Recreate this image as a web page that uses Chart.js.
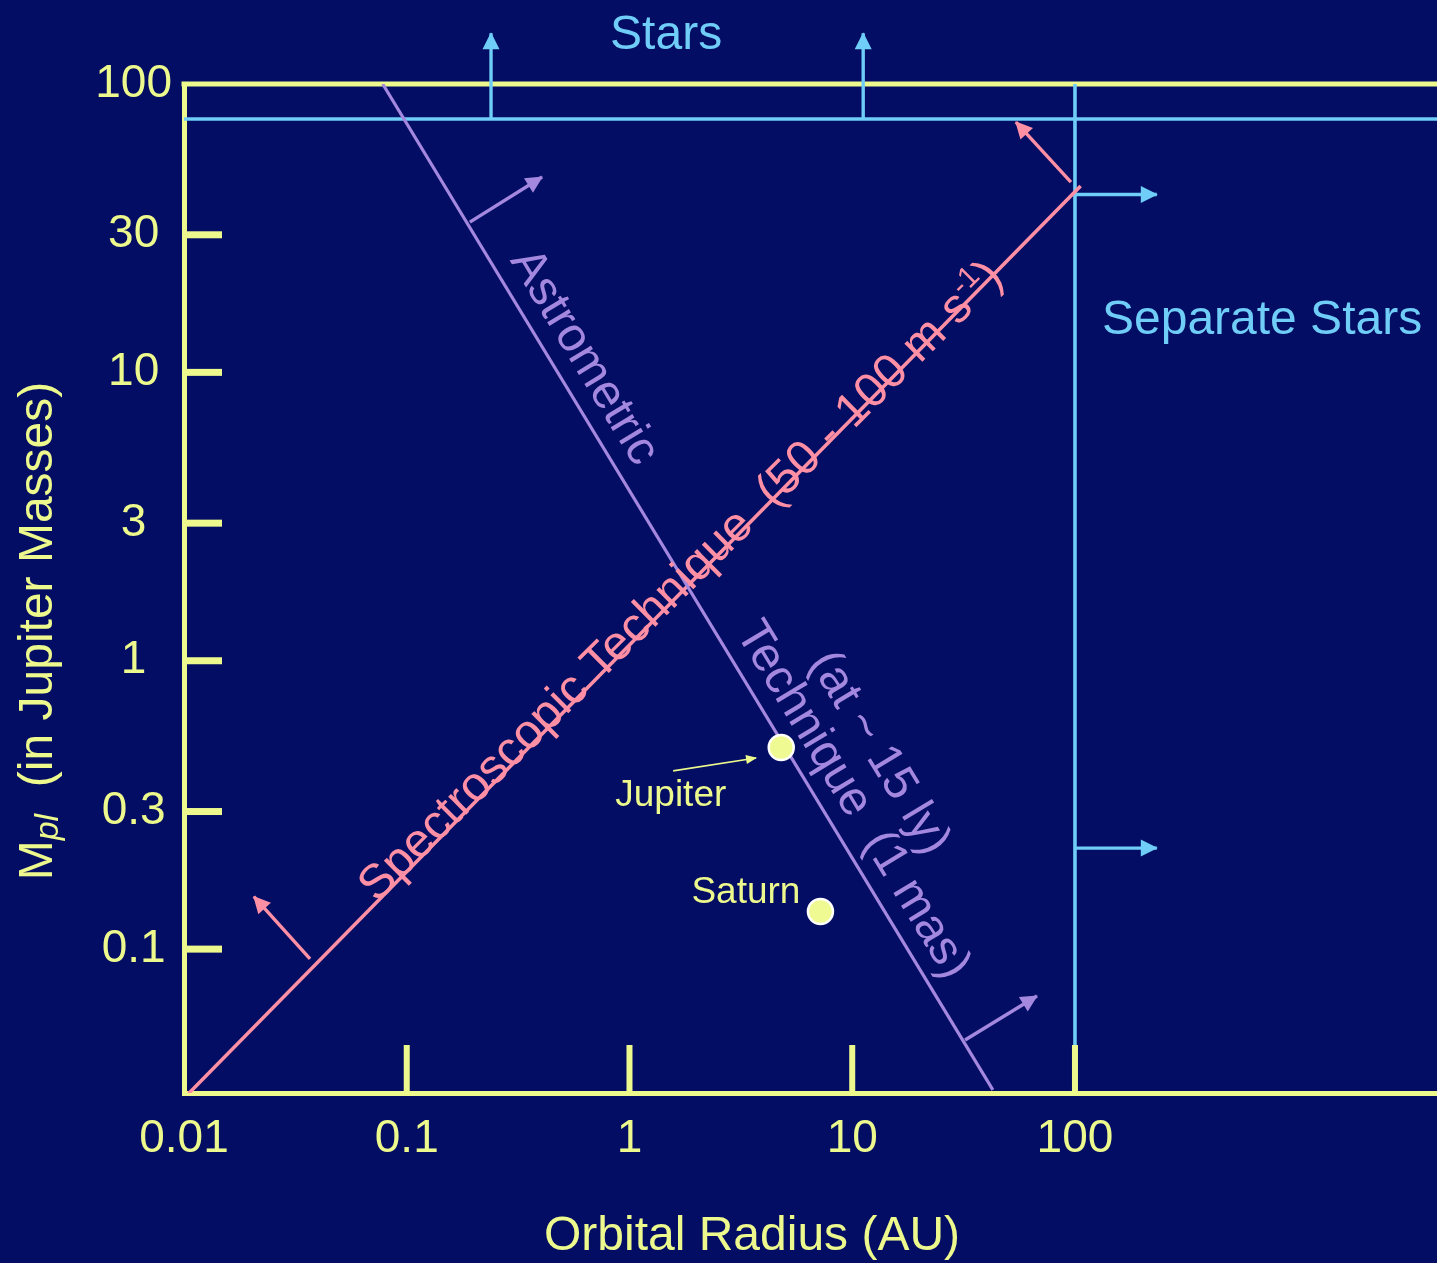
<!DOCTYPE html>
<html>
<head>
<meta charset="utf-8">
<title>Planet detection: spectroscopic vs astrometric</title>
<script src="https://cdn.jsdelivr.net/npm/chart.js@4.4.1/dist/chart.umd.min.js"></script>
<style>
  html, body { margin: 0; padding: 0; background: #020d63; overflow: hidden; }
  #wrap { width: 1437px; height: 1263px; }
  #chart { display: block; }
</style>
</head>
<body>
<div id="wrap"><canvas id="chart" width="1437" height="1263"></canvas></div>
<script>
// x = orbital radius (AU), y = planet mass (Jupiter masses)
const radiusTicks = [0.01, 0.1, 1, 10, 100];
const massTicks = [0.1, 0.3, 1, 3, 10, 30, 100];

const spectroRadius = [0.0105, 106];
const spectroMass = [0.0316, 44.3];
const astroRadius = [0.078, 42.8];
const astroMass = [100, 0.0325];

const starsRadius = [0.01, 4220];
const starsMass = [75.6, 75.6];
const separateRadius = [100, 100];
const separateMass = [100, 0.0317];

const planetNames = ['Jupiter', 'Saturn'];
const planetRadius = [4.8, 7.2];
const planetMass = [0.50, 0.135];

// arrows, from -> to
const arrowGroup      = ['spectro', 'spectro', 'astro', 'astro', 'stars', 'stars', 'stars', 'stars', 'pointer'];
const arrowFromRadius = [0.0368, 95.9, 0.192, 32.1, 0.239, 11.2, 100, 100, 1.57];
const arrowFromMass   = [0.0925, 45.7, 33.2, 0.0484, 75.6, 75.6, 41.4, 0.224, 0.415];
const arrowToRadius   = [0.0206, 54.3, 0.405, 67.5, 0.239, 11.2, 233, 233, 3.70];
const arrowToMass     = [0.152, 73.8, 47.6, 0.0688, 150, 150, 41.4, 0.224, 0.460];

const FONT = "'Liberation Sans', Arial, Helvetica, sans-serif";
const C = {
  bg: '#020d63',
  axis: '#edf98d',
  spectro: '#ff8fa4',
  astro: '#a487de',
  stars: '#6fcdf7',
  pointer: '#edf98d',
  planet: '#f0fa92'
};

Chart.defaults.font.family = FONT;

const pts = (xs, ys) => xs.map((x, i) => ({ x, y: ys[i] }));

function lineSet(key, xs, ys, color, width) {
  return { key, data: pts(xs, ys), showLine: true, borderColor: color, borderWidth: width,
           pointRadius: 0, pointHitRadius: 0, fill: false };
}

const datasets = [
  { key: 'planets', data: pts(planetRadius, planetMass), showLine: false,
    pointRadius: 12.5, pointHoverRadius: 12.5, pointBackgroundColor: C.planet,
    pointBorderColor: '#ffffff', pointBorderWidth: 2.5 },
  lineSet('astro', astroRadius, astroMass, C.astro, 3.2),
  lineSet('spectro', spectroRadius, spectroMass, C.spectro, 3.6),
  lineSet('stars', starsRadius, starsMass, C.stars, 3.6),
  lineSet('separate', separateRadius, separateMass, C.stars, 3.6)
];
arrowGroup.forEach((g, i) => {
  const ds = lineSet('arrow-' + g,
    [arrowFromRadius[i], arrowToRadius[i]], [arrowFromMass[i], arrowToMass[i]],
    C[g], g === 'pointer' ? 1.6 : 3.4);
  ds.clip = false;
  ds.head = g === 'pointer' ? [11, 4.5] : [17, 8.5];
  datasets.push(ds);
});

function font(size, style) { return (style ? style + ' ' : '') + size + 'px ' + FONT; }

function runWidth(ctx, parts) {
  let w = 0;
  parts.forEach(p => { ctx.font = p.font; w += ctx.measureText(p.text).width; });
  return w;
}

function drawRun(ctx, parts, x, y, align) {
  let cx = x;
  const w = runWidth(ctx, parts);
  if (align === 'center') cx -= w / 2;
  else if (align === 'right') cx -= w;
  ctx.textAlign = 'left';
  ctx.textBaseline = 'alphabetic';
  parts.forEach(p => {
    ctx.font = p.font;
    ctx.fillText(p.text, cx, y + (p.dy || 0));
    cx += ctx.measureText(p.text).width;
  });
}

// text laid along a line dataset: t = fraction along it, offset = baseline distance above it
function drawAlong(ctx, meta, t, offset, parts, align, color, tilt) {
  const a = meta.data[0], b = meta.data[meta.data.length - 1];
  const ang = Math.atan2(b.y - a.y, b.x - a.x) + (tilt || 0);
  ctx.save();
  ctx.translate(a.x + (b.x - a.x) * t, a.y + (b.y - a.y) * t);
  ctx.rotate(ang);
  ctx.fillStyle = color;
  drawRun(ctx, parts, 0, -offset, align);
  ctx.restore();
}

function metaByKey(chart, key) {
  const i = chart.data.datasets.findIndex(d => d.key === key);
  return chart.getDatasetMeta(i);
}

const overlay = {
  id: 'overlay',
  beforeDraw(chart) {
    const ctx = chart.ctx;
    ctx.save();
    ctx.fillStyle = C.bg;
    ctx.fillRect(0, 0, chart.width, chart.height);
    ctx.restore();
  },
  beforeDatasetsDraw(chart) {
    const { ctx, chartArea: ca } = chart;
    ctx.save();
    ctx.strokeStyle = C.axis;
    ctx.lineWidth = 5;
    ctx.beginPath();
    ctx.moveTo(ca.left - 2.5, ca.top);
    ctx.lineTo(ca.right, ca.top);
    ctx.stroke();
    ctx.restore();
  },
  afterDatasetsDraw(chart) {
    const { ctx, chartArea: ca, scales: { x, y } } = chart;
    ctx.save();

    // arrow heads
    chart.data.datasets.forEach((ds, i) => {
      if (!ds.head) return;
      const m = chart.getDatasetMeta(i);
      const a = m.data[0], b = m.data[1];
      const ang = Math.atan2(b.y - a.y, b.x - a.x);
      ctx.save();
      ctx.translate(b.x + Math.cos(ang), b.y + Math.sin(ang));
      ctx.rotate(ang);
      ctx.beginPath();
      ctx.moveTo(0, 0);
      ctx.lineTo(-ds.head[0], -ds.head[1]);
      ctx.lineTo(-ds.head[0], ds.head[1]);
      ctx.closePath();
      ctx.fillStyle = ds.borderColor;
      ctx.fill();
      ctx.restore();
    });

    // inward tick marks
    ctx.fillStyle = C.axis;
    radiusTicks.forEach(v => {
      if (v === x.min) return;
      const p = x.getPixelForValue(v);
      ctx.fillRect(p - 3, ca.bottom - 48, 6, 48);
    });
    massTicks.forEach(v => {
      if (v === y.max) return;
      const p = y.getPixelForValue(v);
      ctx.fillRect(ca.left, p - 3.5, 38, 7);
    });

    // labels along the detection lines
    const big = font(48);
    drawAlong(ctx, metaByKey(chart, 'spectro'), 0.21, -1,
      [{ text: 'Spectroscopic Technique  (50 - 100 m s', font: big },
       { text: '-1', font: font(30), dy: -18 },
       { text: ')', font: big }], 'left', C.spectro, 0.012);
    const astro = metaByKey(chart, 'astro');
    drawAlong(ctx, astro, 0.184, 17, [{ text: 'Astrometric', font: big }], 'left', C.astro);
    drawAlong(ctx, astro, 0.554, 17, [{ text: 'Technique  (1 mas)', font: big }], 'left', C.astro);
    drawAlong(ctx, astro, 0.705, 64, [{ text: '(at ~ 15 ly)', font: big }], 'center', C.astro);

    // planet names
    const pm = metaByKey(chart, 'planets');
    ctx.fillStyle = C.axis;
    ctx.font = font(37);
    ctx.textBaseline = 'alphabetic';
    ctx.textAlign = 'left';
    ctx.fillText(planetNames[0], pm.data[0].x - 166, pm.data[0].y + 58);
    ctx.textAlign = 'right';
    ctx.fillText(planetNames[1], pm.data[1].x - 20, pm.data[1].y - 9);

    // region names
    ctx.fillStyle = C.stars;
    ctx.font = big;
    ctx.textAlign = 'center';
    const upA = x.getPixelForValue(arrowFromRadius[4]);
    const upB = x.getPixelForValue(arrowFromRadius[5]);
    ctx.fillText('Stars', (upA + upB) / 2 - 11, ca.top - 35);
    ctx.textAlign = 'left';
    ctx.fillText('Separate Stars', x.getPixelForValue(separateRadius[0]) + 27, ca.top + 250);

    // axis titles
    ctx.fillStyle = C.axis;
    ctx.textAlign = 'center';
    ctx.fillText('Orbital Radius (AU)', 752, 1250);
    ctx.save();
    ctx.translate(52, 631);
    ctx.rotate(-Math.PI / 2);
    drawRun(ctx, [
      { text: 'M', font: big },
      { text: 'pl', font: font(34, 'italic'), dy: 6 },
      { text: '  (in Jupiter Masses)', font: big }
    ], 0, 0, 'center');
    ctx.restore();

    ctx.restore();
  }
};

new Chart(document.getElementById('chart'), {
  type: 'scatter',
  data: { datasets },
  options: {
    responsive: false,
    animation: false,
    devicePixelRatio: 1,
    events: [],
    layout: { autoPadding: false, padding: { top: 84, right: 0, bottom: 0, left: 0 } },
    plugins: { legend: { display: false }, tooltip: { enabled: false } },
    scales: {
      x: {
        type: 'logarithmic',
        position: 'bottom',
        min: 0.01,
        max: 4220,
        grid: { display: false, drawTicks: false },
        border: { display: true, color: C.axis, width: 5 },
        ticks: { color: C.axis, font: { size: 46 }, padding: 19, maxRotation: 0, autoSkip: false,
                 callback: v => String(v) },
        afterBuildTicks: s => { s.ticks = radiusTicks.map(v => ({ value: v })); },
        afterFit: s => { s.height = 170; }
      },
      y: {
        type: 'logarithmic',
        position: 'left',
        min: 0.0317,
        max: 100,
        grid: { display: false, drawTicks: false },
        border: { display: true, color: C.axis, width: 5 },
        ticks: { color: C.axis, font: { size: 46 }, padding: 12, crossAlign: 'center', autoSkip: false,
                 callback: v => String(v) },
        afterBuildTicks: s => { s.ticks = massTicks.map(v => ({ value: v })); },
        afterFit: s => { s.width = 184; }
      }
    }
  },
  plugins: [overlay]
});
</script>
</body>
</html>
